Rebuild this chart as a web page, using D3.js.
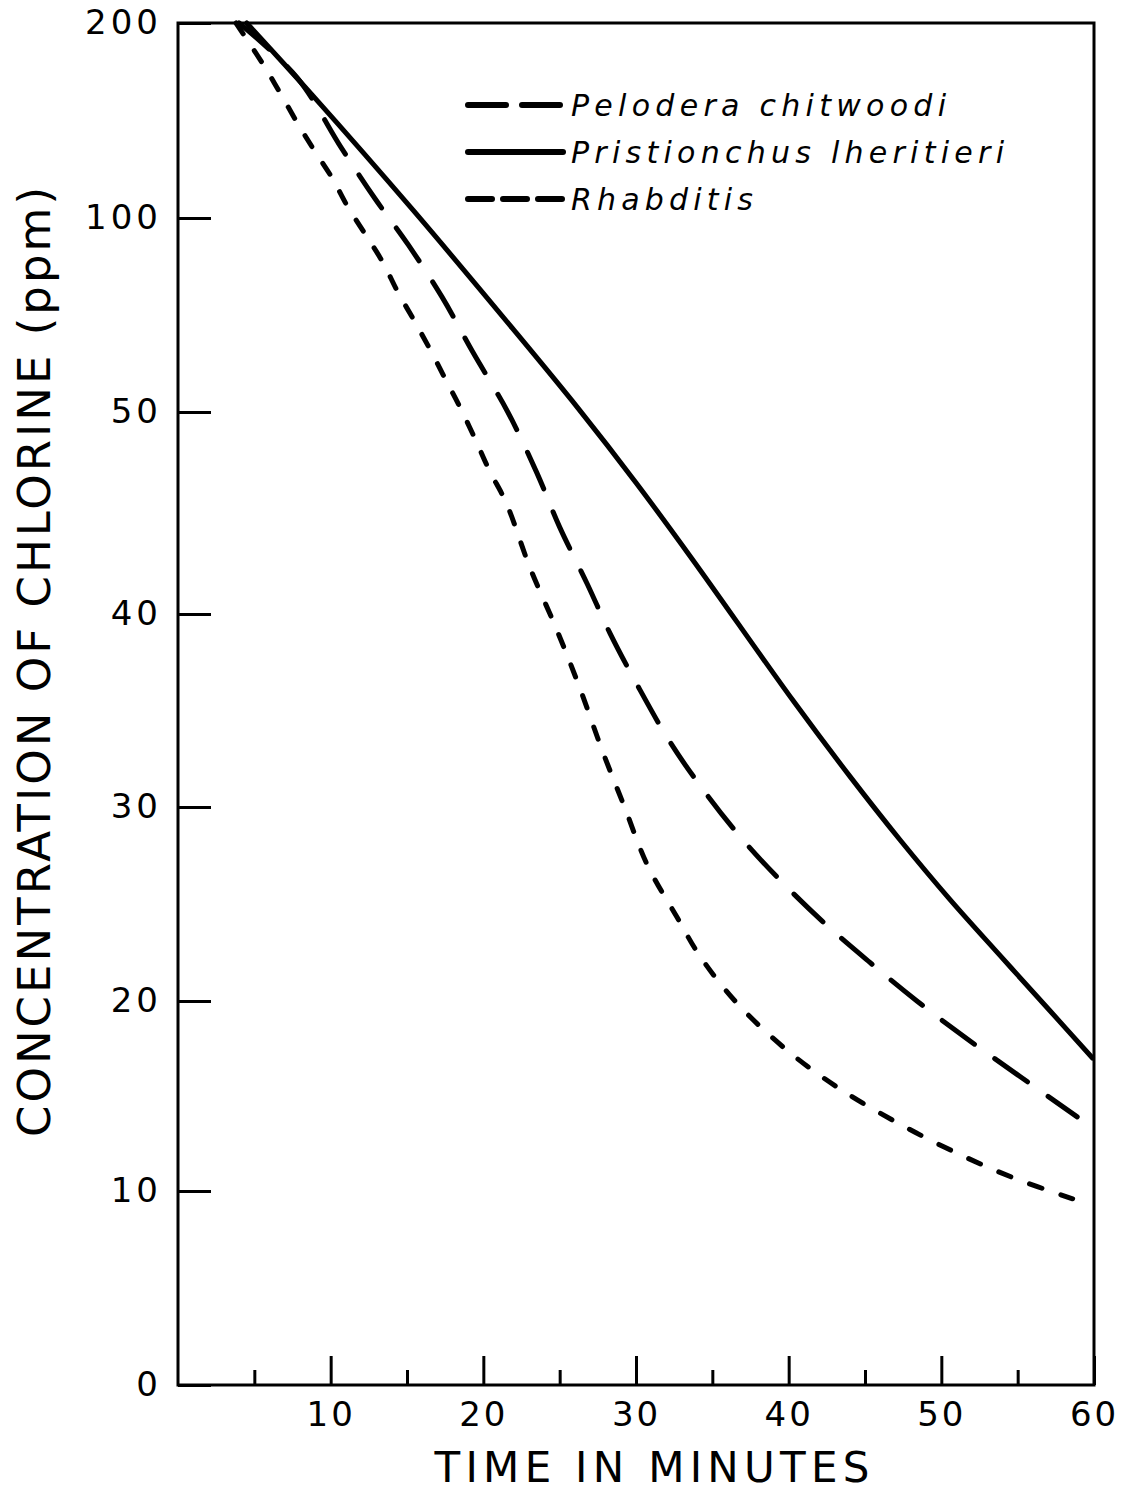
<!DOCTYPE html>
<html>
<head>
<meta charset="utf-8">
<script src="https://cdn.jsdelivr.net/npm/d3@7"></script>
<style>
  body { margin: 0; background: #fff; }
  svg { display: block; }
  text { font-family: "DejaVu Sans", sans-serif; fill: #000; }
</style>
</head>
<body>
<div id="chart"></div>
<script>
// y axis is piecewise: equal spacing between these tick values
const ppmTicks = [0, 10, 20, 30, 40, 50, 100, 200];
const minuteMajor = [10, 20, 30, 40, 50, 60];
const minuteMinor = [5, 15, 25, 35, 45, 55];

// [minutes, ppm]
const pelodera = [[4.0, 200], [7.8, 172], [10.7, 136], [12.9, 110], [15.1, 93], [17.3, 79.6],
  [19.3, 65.5], [21.6, 50], [23.5, 47], [25, 44.3], [26.8, 41.5], [28.3, 39], [30.1, 36.3],
  [32.2, 33.4], [34.3, 31], [36.9, 28.4], [39.6, 26.1], [42.5, 23.9], [45.3, 22], [48.4, 20],
  [51.7, 18], [55.2, 16], [58.9, 13.9]];
const pristionchus = [[4.5, 200], [8.8, 163], [15.4, 104], [21.9, 71.6], [26.2, 51.0], [30, 46.5],
  [33.7, 42.7], [40.3, 35.5], [44, 31.6], [47.3, 28.3], [50.6, 25.2], [53.9, 22.3], [57.1, 19.5],
  [59.9, 17.0]];
const rhabditis = [[3.8, 200], [5.6, 178.5], [6.7, 164], [7.8, 149], [8.9, 135], [10.1, 120.5],
  [11.1, 106], [12.3, 95.6], [13.4, 88.7], [14.4, 80.9], [15.45, 73.7], [16.5, 66.2], [17.55, 58.2],
  [18.5, 51], [19.5, 48.6], [20.4, 47.1], [21.5, 45.5], [23.05, 42.3], [24.8, 39.2], [26.3, 36.2],
  [27.85, 32.8], [29.2, 30.1], [30.75, 27], [32.7, 24.3], [34.2, 22.3], [36.6, 19.9], [39.9, 17.4],
  [43.3, 15.4], [47.1, 13.6], [51, 12], [54.7, 10.7], [58.6, 9.6]];

const seriesNames = ["Pelodera chitwoodi", "Pristionchus lheritieri", "Rhabditis"];

const chartWidth = 1133, chartHeight = 1495;
const plotLeft = 178, plotRight = 1094, plotTop = 23, plotBottom = 1385;

const svg = d3.select("#chart").append("svg")
  .attr("width", chartWidth)
  .attr("height", chartHeight);

const x = d3.scaleLinear().domain([0, 60]).range([plotLeft, plotRight]);
const y = d3.scaleLinear()
  .domain(ppmTicks)
  .range([plotBottom, 1191, 1001, 807, 614, 412, 218, plotTop]);

// frame
svg.append("rect")
  .attr("x", plotLeft).attr("y", plotTop)
  .attr("width", plotRight - plotLeft).attr("height", plotBottom - plotTop)
  .attr("fill", "none").attr("stroke", "#000").attr("stroke-width", 3);

// y axis, ticks pointing in
const yAxis = svg.append("g")
  .attr("transform", "translate(" + plotLeft + ",0)")
  .call(d3.axisLeft(y).tickValues(ppmTicks).tickSize(-33).tickPadding(16).tickFormat(d3.format("d")));
yAxis.select(".domain").remove();
yAxis.selectAll("line").attr("stroke-width", 3);
yAxis.selectAll("text")
  .attr("font-size", 34)
  .attr("letter-spacing", 4)
  .style("font-family", "'DejaVu Sans', sans-serif");

// x axis: minor ticks, then major ticks with labels
const xMinor = svg.append("g")
  .attr("transform", "translate(0," + plotBottom + ")")
  .call(d3.axisBottom(x).tickValues(minuteMinor).tickSize(-15).tickFormat(""));
xMinor.select(".domain").remove();
xMinor.selectAll("line").attr("stroke-width", 3);

const xMajor = svg.append("g")
  .attr("transform", "translate(0," + plotBottom + ")")
  .call(d3.axisBottom(x).tickValues(minuteMajor).tickSize(-29).tickPadding(17));
xMajor.select(".domain").remove();
xMajor.selectAll("line").attr("stroke-width", 3);
xMajor.selectAll("text")
  .attr("font-size", 34)
  .attr("letter-spacing", 3)
  .style("font-family", "'DejaVu Sans', sans-serif");

// axis titles
svg.append("text")
  .attr("x", 652).attr("y", 1482)
  .attr("text-anchor", "middle")
  .attr("font-size", 42)
  .attr("textLength", 435)
  .attr("lengthAdjust", "spacing")
  .text("TIME IN MINUTES");

svg.append("text")
  .attr("transform", "translate(50,662) rotate(-90)")
  .attr("text-anchor", "middle")
  .attr("font-size", 45)
  .attr("textLength", 950)
  .attr("lengthAdjust", "spacing")
  .text("CONCENTRATION OF CHLORINE (ppm)");

// curves
const line = d3.line()
  .x(d => x(d[0]))
  .y(d => y(d[1]))
  .curve(d3.curveCatmullRom.alpha(0.5));

const styles = [
  { data: pelodera, dash: "40,25", legendDash: "38,16" },
  { data: pristionchus, dash: null, legendDash: null },
  { data: rhabditis, dash: "13,20", legendDash: "24,11" }
];

svg.selectAll("path.curve")
  .data(styles)
  .enter()
  .append("path")
  .attr("class", "curve")
  .attr("d", d => line(d.data))
  .attr("fill", "none")
  .attr("stroke", "#000")
  .attr("stroke-width", 5)
  .attr("stroke-linecap", "round")
  .attr("stroke-dasharray", d => d.dash);

// legend
const legendRows = [105, 152, 199];
const legendWidths = [375, 433, 182];
const legend = svg.append("g");
styles.forEach((s, i) => {
  legend.append("line")
    .attr("x1", 468).attr("x2", 563)
    .attr("y1", legendRows[i]).attr("y2", legendRows[i])
    .attr("stroke", "#000")
    .attr("stroke-width", 6)
    .attr("stroke-linecap", "round")
    .attr("stroke-dasharray", s.legendDash);
  legend.append("text")
    .attr("x", 571).attr("y", legendRows[i] + 11)
    .attr("font-size", 30)
    .attr("font-style", "italic")
    .attr("textLength", legendWidths[i])
    .attr("lengthAdjust", "spacing")
    .text(seriesNames[i]);
});
</script>
</body>
</html>
